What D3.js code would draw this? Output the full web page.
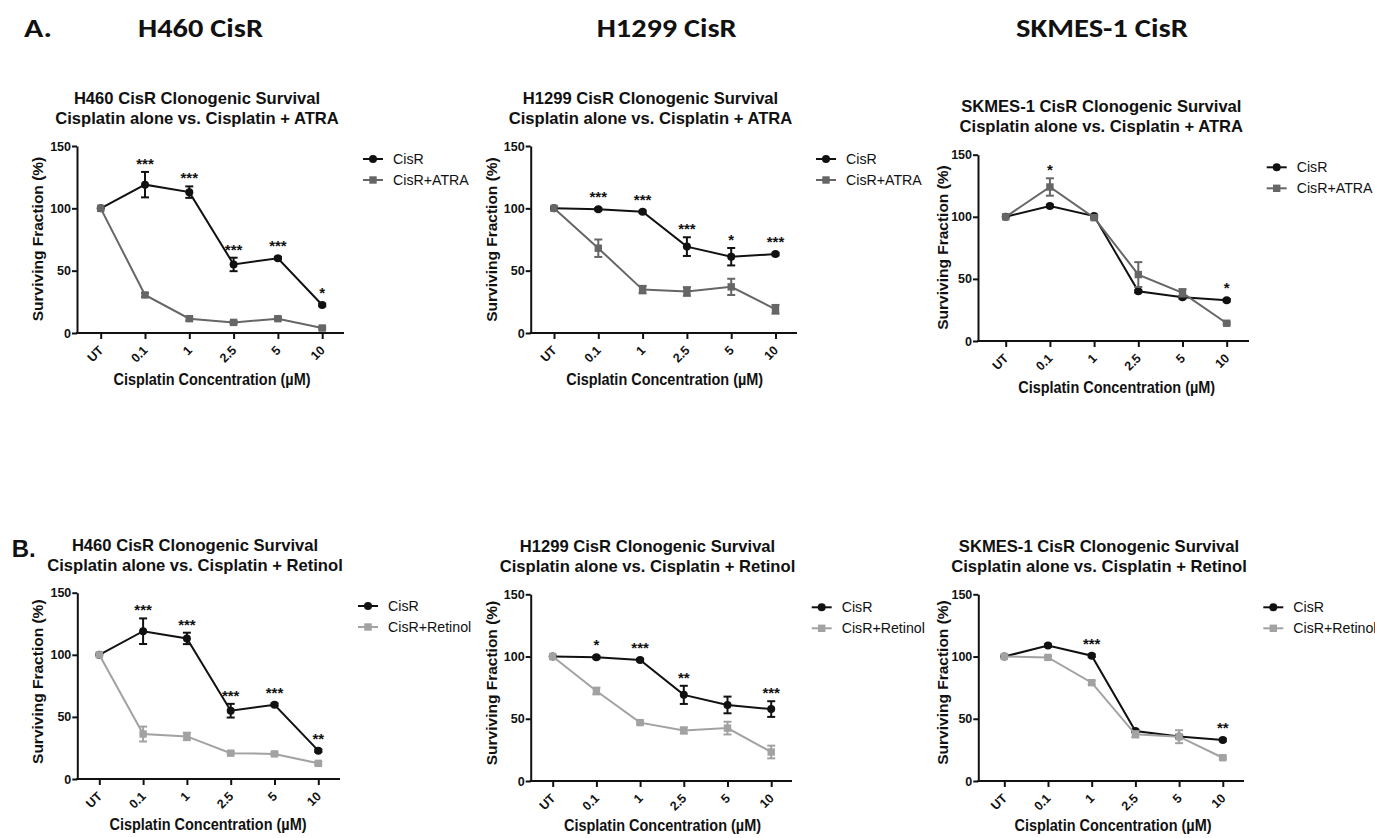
<!DOCTYPE html>
<html>
<head>
<meta charset="utf-8">
<script src="https://cdn.jsdelivr.net/npm/d3@7"></script>
<style>
  body { margin: 0; background: #fff; }
  svg { display: block; }
  text { font-family: "Liberation Sans", Arial, sans-serif; fill: #111; }
</style>
</head>
<body>
<script>
// ---------------- DATA ----------------
const categories = ["UT", "0.1", "1", "2.5", "5", "10"];
const yTicks = [0, 50, 100, 150];
const headers = ["A.", "H460 CisR", "H1299 CisR", "SKMES-1 CisR"];
const rowBLabel = "B.";
const xAxisTitle = "Cisplatin Concentration (\u00B5M)";
const yAxisTitle = "Surviving Fraction (%)";

// Row A: cisplatin vs cisplatin + ATRA
const h460_cisR_A = [100, 119, 113, 55, 60, 22.5];
const h460_cisR_A_err = [0, 10.2, 4.6, 5.4, 1, 1];
const h460_atra = [100, 30.5, 11.5, 8.5, 11.5, 4];
const h460_atra_err = [0, 1.5, 1.5, 1, 1, 1];
const h460_stars_A = ["", "***", "***", "***", "***", "*"];

const h1299_cisR_A = [100, 99.3, 97.2, 69.3, 61.2, 63.3];
const h1299_cisR_A_err = [0, 1, 1, 7.5, 7, 1];
const h1299_atra = [100, 68, 34.8, 33.3, 37, 19];
const h1299_atra_err = [0, 7, 3, 3.5, 6.5, 3.5];
const h1299_stars_A = ["", "***", "***", "***", "*", "***"];

const sk_cisR_A = [100, 108.7, 100.6, 40, 35.2, 32.8];
const sk_cisR_A_err = [0, 1, 1, 1, 1, 1];
const sk_atra = [100, 124, 99.3, 53.5, 38.8, 14.3];
const sk_atra_err = [0, 7, 1, 10, 3, 1];
const sk_stars_A = ["", "*", "", "", "", "*"];

// Row B: cisplatin vs cisplatin + retinol
const h460_cisR_B = [100, 119, 113.2, 55, 59.8, 22.8];
const h460_cisR_B_err = [0, 10.3, 4.6, 5.5, 1, 1];
const h460_ret = [100, 36.2, 34.3, 20.8, 20.2, 12.6];
const h460_ret_err = [0, 6, 3, 1, 1, 1];
const h460_stars_B = ["", "***", "***", "***", "***", "**"];

const h1299_cisR_B = [100, 99.4, 97.2, 69.2, 61.1, 57.8];
const h1299_cisR_B_err = [0, 1, 1, 7.3, 6.7, 6.3];
const h1299_ret = [100, 72.3, 46.9, 40.6, 42.5, 23.3];
const h1299_ret_err = [0, 2.7, 1, 2.5, 5.1, 5.1];
const h1299_stars_B = ["", "*", "***", "**", "", "***"];

const sk_cisR_B = [100, 108.8, 100.7, 40.2, 35.7, 33];
const sk_cisR_B_err = [0, 1, 1, 1, 1, 1];
const sk_ret = [100, 99.3, 79, 37.5, 35.6, 18.7];
const sk_ret_err = [0, 1, 1.5, 2.5, 5.2, 1];
const sk_stars_B = ["", "", "***", "", "", "**"];

const seriesNames = { cisR: "CisR", atra: "CisR+ATRA", ret: "CisR+Retinol" };
const titlesLine1 = ["H460 CisR Clonogenic Survival", "H1299 CisR Clonogenic Survival", "SKMES-1 CisR Clonogenic Survival"];
const titleLine2A = "Cisplatin alone vs. Cisplatin + ATRA";
const titleLine2B = "Cisplatin alone vs. Cisplatin + Retinol";

// ---------------- LAYOUT ----------------
const COL_BLACK = "#111111", COL_ATRA = "#666666", COL_RET = "#a2a2a2";

const panels = [
  { t1: titlesLine1[0], t2: titleLine2A, s1: [h460_cisR_A, h460_cisR_A_err], s2: [h460_atra, h460_atra_err], n2: seriesNames.atra, c2: COL_ATRA, stars: h460_stars_A,
    L: { axisX: 77, y0: 333, y150: 146, xUT: 100.7, step: 44.3, xEnd: 344, tx: 197, tb: 104, lgX: 363, lgY: 159, ylx: 43, yly: 239, xlx: 212, xlb: 385 } },
  { t1: titlesLine1[1], t2: titleLine2A, s1: [h1299_cisR_A, h1299_cisR_A_err], s2: [h1299_atra, h1299_atra_err], n2: seriesNames.atra, c2: COL_ATRA, stars: h1299_stars_A,
    L: { axisX: 530.7, y0: 333, y150: 146, xUT: 554, step: 44.3, xEnd: 797, tx: 650.5, tb: 104, lgX: 816, lgY: 159, ylx: 497, yly: 239.5, xlx: 664.7, xlb: 385 } },
  { t1: titlesLine1[2], t2: titleLine2A, s1: [sk_cisR_A, sk_cisR_A_err], s2: [sk_atra, sk_atra_err], n2: seriesNames.atra, c2: COL_ATRA, stars: sk_stars_A,
    L: { axisX: 978, y0: 341, y150: 154.7, xUT: 1005.7, step: 44.2, xEnd: 1249, tx: 1101.3, tb: 112.3, lgX: 1266.7, lgY: 167.3, ylx: 948, yly: 247.5, xlx: 1116.7, xlb: 393 } },
  { t1: titlesLine1[0], t2: titleLine2B, s1: [h460_cisR_B, h460_cisR_B_err], s2: [h460_ret, h460_ret_err], n2: seriesNames.ret, c2: COL_RET, stars: h460_stars_B,
    L: { axisX: 77.3, y0: 779, y150: 592.7, xUT: 99.3, step: 43.8, xEnd: 340, tx: 195, tb: 550.7, lgX: 358, lgY: 606, ylx: 43, yly: 681.7, xlx: 208, xlb: 830 } },
  { t1: titlesLine1[1], t2: titleLine2B, s1: [h1299_cisR_B, h1299_cisR_B_err], s2: [h1299_ret, h1299_ret_err], n2: seriesNames.ret, c2: COL_RET, stars: h1299_stars_B,
    L: { axisX: 530.7, y0: 781, y150: 594.3, xUT: 552.7, step: 43.7, xEnd: 792, tx: 647.5, tb: 552.3, lgX: 811.7, lgY: 607.3, ylx: 497, yly: 683, xlx: 662.5, xlb: 831 } },
  { t1: titlesLine1[2], t2: titleLine2B, s1: [sk_cisR_B, sk_cisR_B_err], s2: [sk_ret, sk_ret_err], n2: seriesNames.ret, c2: COL_RET, stars: sk_stars_B,
    L: { axisX: 978.3, y0: 781, y150: 594.3, xUT: 1004.3, step: 43.7, xEnd: 1244, tx: 1099, tb: 552.3, lgX: 1263.3, lgY: 607.3, ylx: 948, yly: 682.5, xlx: 1113, xlb: 831 } }
];

const svg = d3.select("body").append("svg").attr("width", 1375).attr("height", 838);

// Header row
const hdrFont = "Calibri, Carlito, 'Open Sans', sans-serif";
const hdrPos = [{ x: 24, w: 28 }, { x: 138, w: 125 }, { x: 596.7, w: 140 }, { x: 1016, w: 172 }];
headers.forEach((h, i) => {
  svg.append("text").attr("x", hdrPos[i].x).attr("y", 37)
    .attr("textLength", hdrPos[i].w).attr("lengthAdjust", "spacingAndGlyphs")
    .style("font-family", hdrFont).style("font-weight", "700").style("font-size", "27px").text(h);
});
svg.append("text").attr("x", 11.7).attr("y", 557)
  .style("font-weight", "700").style("font-size", "24px").text(rowBLabel);

function drawPanel(p) {
  const L = p.L;
  const g = svg.append("g");
  const x = d3.scalePoint().domain(categories).range([L.xUT, L.xUT + 5 * L.step]);
  const y = d3.scaleLinear().domain([0, 150]).range([L.y0, L.y150]);

  // titles
  g.append("text").attr("x", L.tx).attr("y", L.tb).attr("text-anchor", "middle")
    .style("font-weight", "700").style("font-size", "16.6px").text(p.t1);
  g.append("text").attr("x", L.tx).attr("y", L.tb + 20).attr("text-anchor", "middle")
    .style("font-weight", "700").style("font-size", "16.6px").text(p.t2);

  // y axis
  const ya = g.append("g").attr("transform", `translate(${L.axisX},0)`)
    .call(d3.axisLeft(y).tickValues(yTicks).tickSize(5).tickSizeOuter(0).tickPadding(1));
  ya.select(".domain").attr("stroke", "#111").attr("stroke-width", 2);
  ya.selectAll(".tick line").attr("stroke", "#111").attr("stroke-width", 2);
  ya.selectAll(".tick text").style("font-family", "'Liberation Sans', Arial, sans-serif")
    .style("font-weight", "700").style("font-size", "12.5px").attr("fill", "#111");

  // x axis
  const xa = g.append("g").attr("transform", `translate(0,${L.y0})`)
    .call(d3.axisBottom(x).tickSize(6).tickSizeOuter(0));
  xa.select(".domain").remove();
  xa.selectAll(".tick line").attr("stroke", "#111").attr("stroke-width", 2);
  xa.selectAll(".tick text").attr("x", 0).attr("y", 0).attr("dy", 0)
    .attr("transform", "translate(3,18) rotate(-45)").attr("text-anchor", "end")
    .style("font-family", "'Liberation Sans', Arial, sans-serif")
    .style("font-weight", "700").style("font-size", "12.5px").attr("fill", "#111");
  g.append("line").attr("x1", L.axisX - 1).attr("x2", L.xEnd).attr("y1", L.y0).attr("y2", L.y0)
    .attr("stroke", "#111").attr("stroke-width", 2);

  // axis titles
  g.append("text").attr("transform", `translate(${L.ylx},${L.yly}) rotate(-90)`).attr("text-anchor", "middle")
    .style("font-weight", "700").style("font-size", "15.5px").text(yAxisTitle);
  g.append("text").attr("x", L.xlx).attr("y", L.xlb).attr("text-anchor", "middle")
    .attr("textLength", 197).attr("lengthAdjust", "spacingAndGlyphs")
    .style("font-weight", "700").style("font-size", "16px").text(xAxisTitle);

  const series = [
    { vals: p.s1[0], err: p.s1[1], color: COL_BLACK, shape: "circle" },
    { vals: p.s2[0], err: p.s2[1], color: p.c2, shape: "square" }
  ];
  const line = d3.line().x((d, i) => x(categories[i])).y(d => y(d));
  series.forEach(s => {
    const sg = g.append("g");
    sg.append("path").datum(s.vals).attr("d", line).attr("fill", "none")
      .attr("stroke", s.color).attr("stroke-width", 2);
    s.vals.forEach((v, i) => {
      const e = s.err[i], cx = x(categories[i]);
      if (e > 0) {
        sg.append("line").attr("x1", cx).attr("x2", cx).attr("y1", y(v - e)).attr("y2", y(v + e))
          .attr("stroke", s.color).attr("stroke-width", 2);
        [v - e, v + e].forEach(ev => sg.append("line").attr("x1", cx - 4).attr("x2", cx + 4)
          .attr("y1", y(ev)).attr("y2", y(ev)).attr("stroke", s.color).attr("stroke-width", 2));
      }
      if (s.shape === "circle") {
        sg.append("circle").attr("cx", cx).attr("cy", y(v)).attr("r", 4).attr("fill", s.color);
      } else {
        sg.append("rect").attr("x", cx - 3.7).attr("y", y(v) - 3.7).attr("width", 7.4).attr("height", 7.4).attr("fill", s.color);
      }
    });
  });

  // significance stars
  p.stars.forEach((st, i) => {
    if (!st) return;
    let top = Infinity;
    series.forEach(s => {
      top = Math.min(top, y(s.vals[i] + s.err[i]), y(s.vals[i]) - 4);
    });
    g.append("text").attr("x", x(categories[i])).attr("y", top - 3).attr("text-anchor", "middle")
      .style("font-weight", "700").style("font-size", "15px").text(st);
  });

  // legend
  const lg = g.append("g").attr("transform", `translate(${L.lgX},${L.lgY})`);
  [{ name: seriesNames.cisR, color: COL_BLACK, shape: "circle" }, { name: p.n2, color: p.c2, shape: "square" }]
    .forEach((it, k) => {
      const yy = k * 21;
      lg.append("line").attr("x1", 0).attr("x2", 20).attr("y1", yy).attr("y2", yy)
        .attr("stroke", it.color).attr("stroke-width", 2);
      if (it.shape === "circle") lg.append("circle").attr("cx", 10).attr("cy", yy).attr("r", 4).attr("fill", it.color);
      else lg.append("rect").attr("x", 6.3).attr("y", yy - 3.7).attr("width", 7.4).attr("height", 7.4).attr("fill", it.color);
      lg.append("text").attr("x", 30).attr("y", yy + 5).style("font-size", "14.2px").text(it.name);
    });
}

panels.forEach(drawPanel);
</script>
</body>
</html>
